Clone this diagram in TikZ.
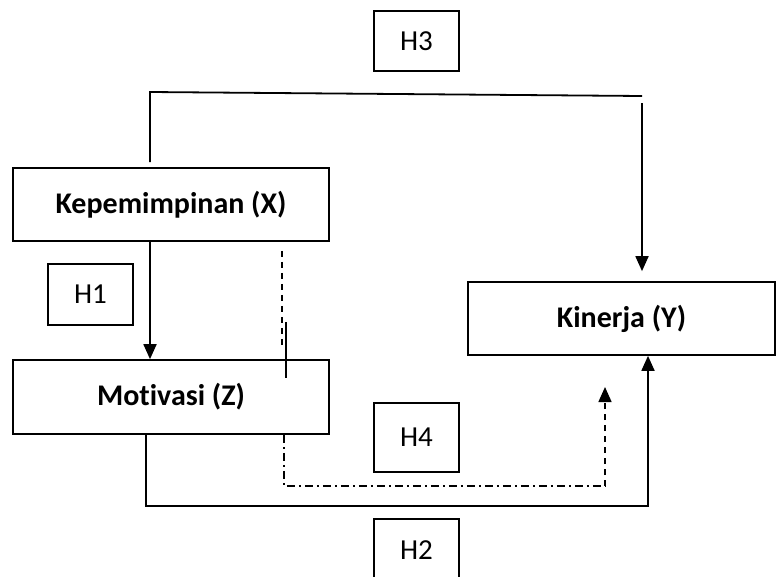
\documentclass[tikz,border=0pt]{standalone}
\usepackage{fontspec}
\setmainfont{Carlito}[Ligatures=NoCommon]
\usetikzlibrary{arrows.meta}

\tikzset{
  varbox/.style={draw, line width=1.7pt, inner sep=0pt, font=\fontsize{30}{33}\selectfont\bfseries},
  hbox/.style={draw, line width=1.5pt, inner sep=0pt, minimum width=85pt, font=\fontsize{29}{32}\selectfont},
  link/.style={line width=1.8pt},
  arr/.style={-{Triangle[length=15pt,width=13pt]}},
  dashline/.style={line width=1.5pt, dash pattern=on 6pt off 5pt},
  dashdotline/.style={line width=1.5pt, dash pattern=on 8pt off 4pt on 2pt off 4pt}
}

\begin{document}
\begin{tikzpicture}[x=1pt, y=-1pt]
			\useasboundingbox (0,0) rectangle (776,576);
			% boxes
			\node[hbox, minimum height=60pt] (h3) at (416.5,41) {H3};
			\node[varbox, minimum width=316pt, minimum height=73pt] (kep) at (171,204.5) {Kepemimpinan (X)};
			\node[hbox, minimum height=61pt] (h1) at (90.5,294.5) {H1};
			\node[varbox, minimum width=316pt, minimum height=74pt] (mot) at (171,397) {Motivasi (Z)};
			\node[varbox, minimum width=307pt, minimum height=73pt] (kin) at (621.5,318.5) {Kinerja (Y)};
			\node[hbox, minimum height=69pt] (h4) at (416.5,437.5) {H4};
			\node[hbox, minimum height=62pt] (h2) at (416.5,550) {H2};
			% bends
			\coordinate (h3a) at (150,92);
			\coordinate (h3b) at (642,96);
			\coordinate (h2a) at (146,506);
			\coordinate (h2b) at (648,506);
			\coordinate (h4a) at (284,486);
			\coordinate (h4b) at (605,486);
			\coordinate (h4c) at (605,387);
			\coordinate (xd) at (282,348);
			\coordinate (xs1) at (286,322);
			\coordinate (xs2) at (286,378);
			% H3
			\draw[link] ([yshift=5pt]kep.north -| h3a) -- (h3a) -- (h3b);
			\draw[link, arr] ([yshift=-7pt]h3b) -- ([yshift=10pt]kin.north -| h3b);
			% H1
			\draw[link, arr] (kep.south -| h3a) -- (mot.north -| h3a);
			% H2
			\draw[link, arr] (mot.south -| h2a) -- (h2a) -- (h2b) -- (kin.south -| h2b);
			% H4
			\draw[dashline] ([yshift=-9pt]kep.south -| xd) -- (xd);
			\draw[link] (xs1) -- (xs2);
			\draw[dashdotline] (mot.south -| h4a) -- (h4a) -- (h4b);
			\draw[dashline, arr] (h4b) -- (h4c);
		\end{tikzpicture}
\end{document}
